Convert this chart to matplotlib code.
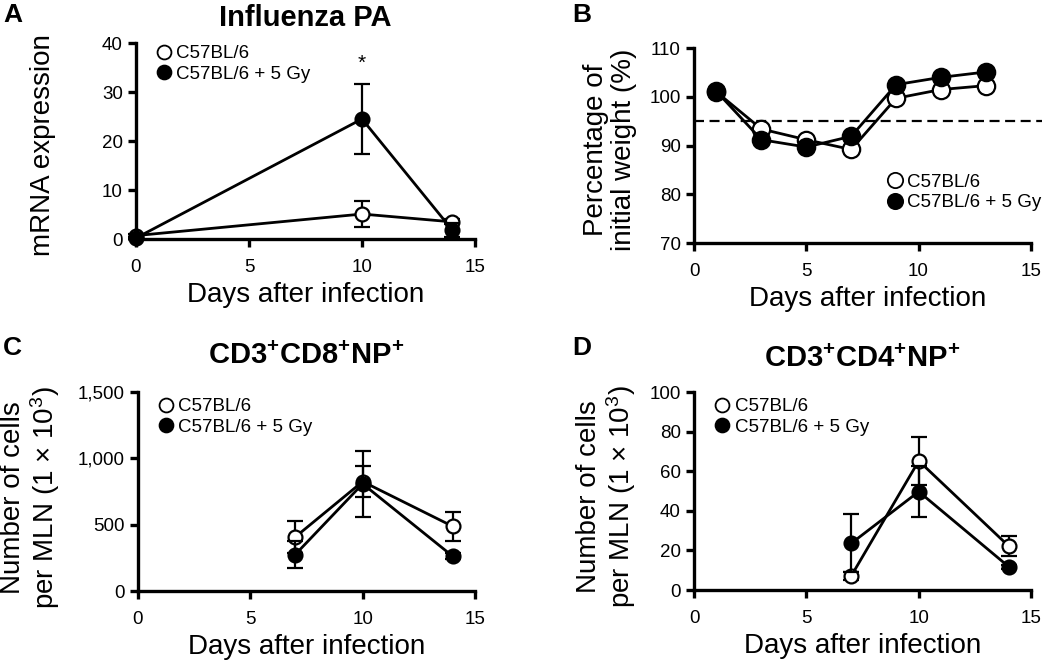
import matplotlib
matplotlib.use("Agg")
import matplotlib.pyplot as plt
from matplotlib.lines import Line2D

plt.rcParams['font.family'] = ['Liberation Sans', 'DejaVu Sans']
plt.rcParams['mathtext.fontset'] = 'custom'
plt.rcParams['mathtext.rm'] = 'Liberation Sans'
plt.rcParams['mathtext.bf'] = 'Liberation Sans:bold'
plt.rcParams['mathtext.it'] = 'Liberation Sans:italic'
plt.rcParams['mathtext.default'] = 'rm'

# Series labels
labels = ['C57BL/6', 'C57BL/6 + 5 Gy']

# A: influenza PA mRNA
days_a = [0, 10, 14]
pa_ctrl = [0.7, 5.1, 3.5]
pa_ctrl_err = [0.3, 2.7, 0.5]
pa_irr = [0.2, 24.5, 1.8]
pa_irr_err = [0.2, 7.2, 1.4]

# B: body weight
days_b = [1, 3, 5, 7, 9, 11, 13]
wt_ctrl = [101.0, 93.4, 91.2, 89.2, 99.7, 101.5, 102.3]
wt_irr = [101.1, 91.2, 89.7, 91.9, 102.5, 104.0, 105.1]
wt_cutoff = 95

# C: CD3+CD8+NP+
days_cd = [7, 10, 14]
cd8_ctrl = [407, 825, 488]
cd8_ctrl_err = [120, 115, 108]
cd8_irr = [275, 808, 263]
cd8_irr_err = [100, 250, 20]

# D: CD3+CD4+NP+
cd4_ctrl = [7.2, 65.2, 22.2]
cd4_ctrl_err = [2.0, 12.2, 5.1]
cd4_irr = [23.6, 49.7, 11.8]
cd4_irr_err = [14.6, 12.7, 1.0]

xticks = [0, 5, 10, 15]
yticks_c = [0, 500, 1000, 1500]
yticklabels_c = ['0', '500', '1,000', '1,500']

MS = 10
LW = 2.0


def style(ax, ylim, yticks, xmax=15):
    ax.set_xlim(0, xmax)
    ax.set_ylim(*ylim)
    ax.set_xticks(xticks)
    ax.set_yticks(yticks)
    ax.spines['top'].set_visible(False)
    ax.spines['right'].set_visible(False)
    ax.spines['left'].set_linewidth(2.4)
    ax.spines['bottom'].set_linewidth(2.4)
    ax.spines['bottom'].set_bounds(0, 15)
    ax.tick_params(axis='both', direction='out', length=5.5, width=2.4, labelsize=13.5)
    ax.tick_params(axis='x', pad=9)
    ax.tick_params(axis='y', pad=4)
    ax.set_xlabel('Days after infection', fontsize=20, labelpad=4)


def series(ax, x, y, err, filled):
    fc = 'black' if filled else 'white'
    ax.errorbar(x, y, yerr=err, color='black', lw=LW, marker='o', ms=MS,
                mfc=fc, mec='black', mew=1.6, capsize=6, capthick=1.6,
                elinewidth=1.6, clip_on=False, zorder=3 if filled else 2)


def legend(ax, anchor, ms=MS):
    h = [Line2D([], [], ls='none', marker='o', ms=ms, mfc='white', mec='black', mew=1.3),
         Line2D([], [], ls='none', marker='o', ms=ms, mfc='black', mec='black', mew=1.3)]
    ax.legend(h, labels, loc='upper left', bbox_to_anchor=anchor, frameon=False,
              fontsize=13.5, handlelength=0.8, handletextpad=0.25, labelspacing=0.18,
              borderpad=0, borderaxespad=0)


fig = plt.figure(figsize=(10.5, 6.66), dpi=100)

# Panel A
ax = fig.add_axes([0.1295, 0.6411, 0.3229, 0.2943])
series(ax, days_a, pa_ctrl, pa_ctrl_err, False)
series(ax, days_a, pa_irr, pa_irr_err, True)
style(ax, (0, 40), [0, 10, 20, 30, 40])
ax.set_ylabel('mRNA expression', fontsize=20)
ax.yaxis.set_label_coords(-0.235, 0.48)
ax.set_title('Influenza PA', fontsize=21, fontweight='bold', pad=12)
ax.text(10, 34, '*', ha='center', va='bottom', fontsize=15)
legend(ax, (0.06, 0.99))

# Panel B
ax = fig.add_axes([0.661, 0.635, 0.3314, 0.2928])
ax.axhline(wt_cutoff, color='black', lw=1.6, ls=(0, (4.5, 2.5)), zorder=1)
ax.plot(days_b, wt_ctrl, color='black', lw=LW, marker='o', ms=12.5, mfc='white',
        mec='black', mew=1.6, zorder=2)
ax.plot(days_b, wt_irr, color='black', lw=LW, marker='o', ms=12.5, mfc='black',
        mec='black', mew=1.6, zorder=3)
style(ax, (70, 110), [70, 80, 90, 100, 110], xmax=15.5)
ax.set_ylabel('Percentage of\ninitial weight (%)', fontsize=20, linespacing=1.1)
ax.yaxis.set_label_coords(-0.165, 0.48)
legend(ax, (0.555, 0.355), ms=11)

# Panel C
ax = fig.add_axes([0.1314, 0.1126, 0.321, 0.2988])
series(ax, days_cd, cd8_ctrl, cd8_ctrl_err, False)
series(ax, days_cd, cd8_irr, cd8_irr_err, True)
style(ax, (0, 1500), yticks_c)
ax.set_yticklabels(yticklabels_c)
ax.set_ylabel('Number of cells\nper MLN (1 × 10$^{3}$)', fontsize=20, linespacing=1.1)
ax.yaxis.set_label_coords(-0.225, 0.47)
ax.set_title(r'$\mathbf{CD3^{+}CD8^{+}NP^{+}}$', fontsize=21, pad=20)
legend(ax, (0.06, 0.97))

# Panel D
ax = fig.add_axes([0.661, 0.1141, 0.321, 0.2973])
series(ax, days_cd, cd4_ctrl, cd4_ctrl_err, False)
series(ax, days_cd, cd4_irr, cd4_irr_err, True)
style(ax, (0, 100), [0, 20, 40, 60, 80, 100])
ax.set_ylabel('Number of cells\nper MLN (1 × 10$^{3}$)', fontsize=20, linespacing=1.1)
ax.yaxis.set_label_coords(-0.165, 0.47)
ax.set_title(r'$\mathbf{CD3^{+}CD4^{+}NP^{+}}$', fontsize=21, pad=18)
legend(ax, (0.062, 0.97))

# Panel letters
for x, y, s in [(0.003, 0.995, 'A'), (0.545, 0.995, 'B'),
                (0.003, 0.495, 'C'), (0.545, 0.495, 'D')]:
    fig.text(x, y, s, fontsize=19, fontweight='bold', ha='left', va='top')

fig.savefig('out.png', dpi=100, facecolor='white')
